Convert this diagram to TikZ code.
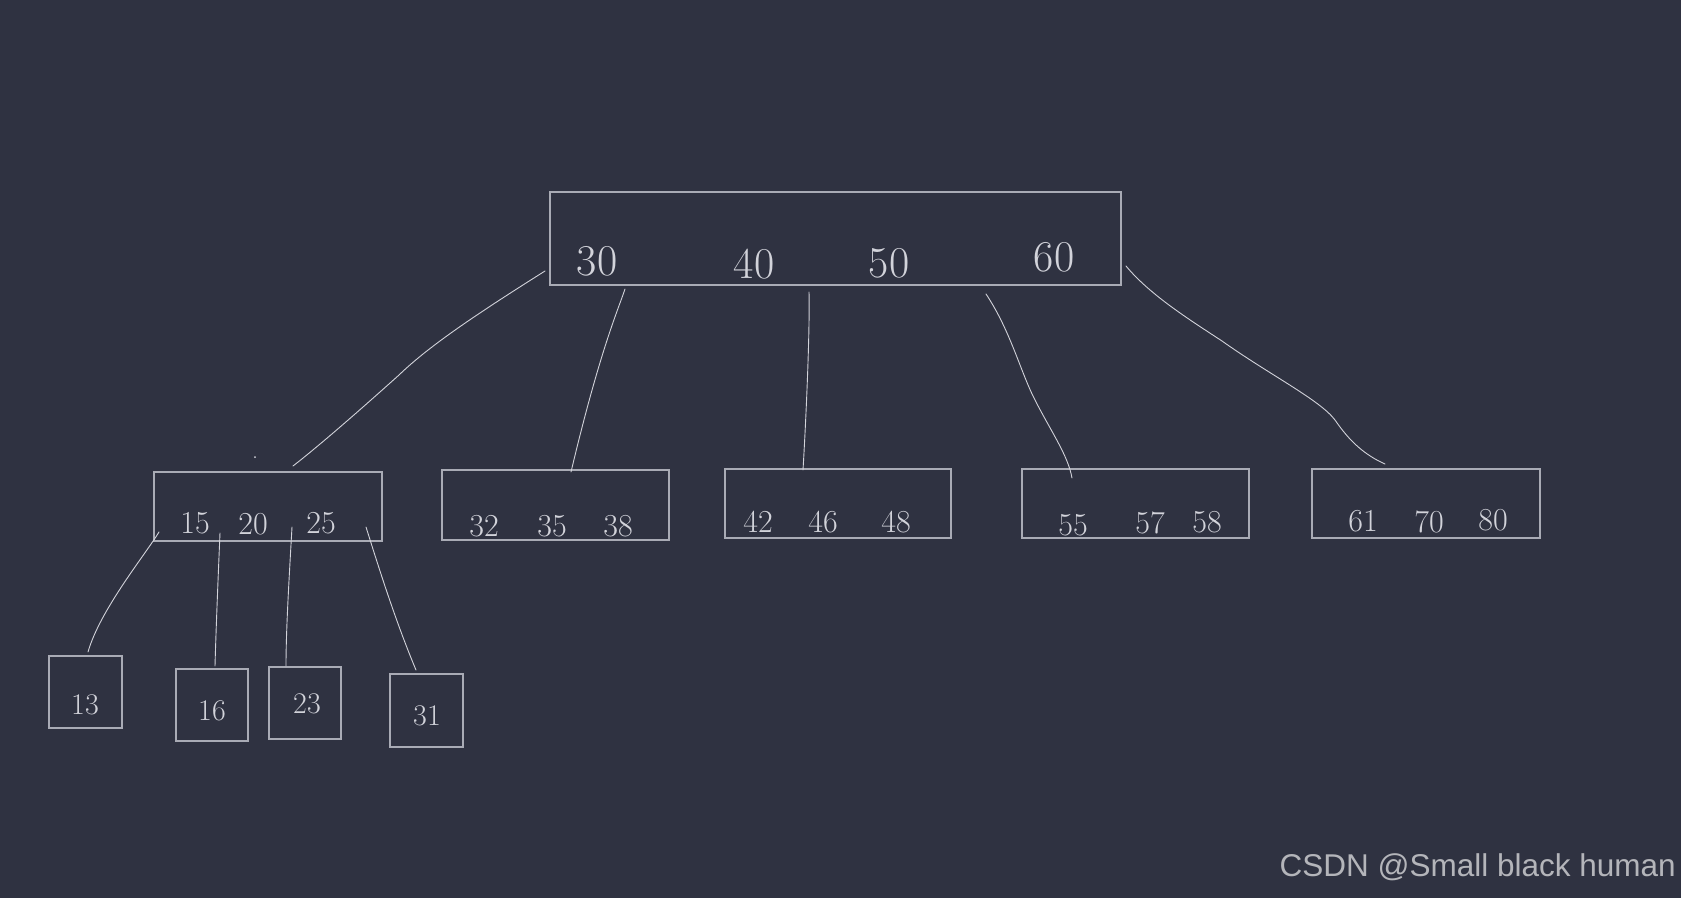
\documentclass[tikz,border=0pt]{standalone}
\usepackage{fontspec}
\newfontfamily\wmfont{Liberation Sans}
\definecolor{bg}{HTML}{2F3241}
\definecolor{ink}{HTML}{D2D3DA}
\definecolor{boxc}{HTML}{A9ABB5}
\definecolor{wm}{HTML}{B4B5BA}
\begin{document}
\begin{tikzpicture}[x=1pt,y=-1pt,
  keybox/.style={draw=boxc,line width=1.1pt,inner sep=0pt},
  bigdig/.style={text=ink,font=\fontsize{44}{44}\selectfont,inner sep=0pt},
  middig/.style={text=ink,font=\fontsize{32}{32}\selectfont,inner sep=0pt},
  smalldig/.style={text=ink,font=\fontsize{30}{30}\selectfont,inner sep=0pt},
  link/.style={draw=ink,line width=0.9pt,line cap=round}]
\fill[bg] (0,0) rectangle (1681,898);
\useasboundingbox (0,0) rectangle (1681,898);
% root
\node[keybox,minimum width=571pt,minimum height=93pt] (root) at (835.5,238.5) {};
\node[bigdig] (t30) at (597,261) {30};
\node[bigdig] (t40) at (754,264) {40};
\node[bigdig] (t50) at (889,263) {50};
\node[bigdig] (t60) at (1054,257) {60};
% level 2
\node[keybox,minimum width=228pt,minimum height=69pt] (A) at (268,506.5) {};
\node[keybox,minimum width=227pt,minimum height=70pt] (B) at (555.5,505) {};
\node[keybox,minimum width=226pt,minimum height=69pt] (C) at (838,503.5) {};
\node[keybox,minimum width=227pt,minimum height=69pt] (D) at (1135.5,503.5) {};
\node[keybox,minimum width=228pt,minimum height=69pt] (E) at (1426,503.5) {};
\node[middig] (t15) at (195,523) {15};
\node[middig] (t20) at (253,524) {20};
\node[middig] (t25) at (321,523) {25};
\node[middig] (t32) at (484,526) {32};
\node[middig] (t35) at (552,526) {35};
\node[middig] (t38) at (618,526) {38};
\node[middig] (t42) at (758,522) {42};
\node[middig] (t46) at (823,522) {46};
\node[middig] (t48) at (896,522) {48};
\node[middig] (t55) at (1073,525) {55};
\node[middig] (t57) at (1150,523) {57};
\node[middig] (t58) at (1207,522) {58};
\node[middig] (t61) at (1363,521) {61};
\node[middig] (t70) at (1429,522) {70};
\node[middig] (t80) at (1493,520) {80};
% level 3
\node[keybox,minimum width=73pt,minimum height=72pt] (n13) at (85.5,692) {};
\node[keybox,minimum width=72pt,minimum height=72pt] (n16) at (212,705) {};
\node[keybox,minimum width=72pt,minimum height=72pt] (n23) at (305,703) {};
\node[keybox,minimum width=73pt,minimum height=73pt] (n31) at (426.5,710.5) {};
\node[smalldig] (t13) at (85,705) {13};
\node[smalldig] (t16) at (212,711) {16};
\node[smalldig] (t23) at (307,704) {23};
\node[smalldig] (t31) at (427,716) {31};
% connector end points
\coordinate (rA) at (545,271);
\coordinate (aT) at (293,466);
\coordinate (rB) at (625,289);
\coordinate (bT) at (571,472);
\coordinate (rC) at (809,292);
\coordinate (cT) at (803,470);
\coordinate (rD) at (986,294);
\coordinate (dT) at (1072,478);
\coordinate (rE) at (1126,266);
\coordinate (eT) at (1385,464);
\coordinate (a1) at (159,532);
\coordinate (b13) at (88,652);
\coordinate (a2) at (220,533);
\coordinate (b16) at (215,666);
\coordinate (a3) at (292,527);
\coordinate (b23) at (286,666);
\coordinate (a4) at (366,527);
\coordinate (b31) at (416,670);
% connectors
\draw[link] (rA) .. controls (480,312) and (430,345) .. (399,375) .. controls (360,410) and (320,445) .. (aT);
\draw[link] (rB) .. controls (618,310) and (600,350) .. (bT);
\draw[link] (rC) .. controls (810,330) and (806,420) .. (cT);
\draw[link] (rD) .. controls (1010,330) and (1020,370) .. (1034,398) .. controls (1050,430) and (1068,455) .. (dT);
\draw[link] (rE) .. controls (1150,295) and (1190,320) .. (1222,341) .. controls (1270,375) and (1320,400) .. (1335,420) .. controls (1350,442) and (1365,455) .. (eT);
\draw[link] (a1) .. controls (145,555) and (100,610) .. (b13);
\draw[link] (a2) .. controls (218,580) and (216,630) .. (b16);
\draw[link] (a3) .. controls (289,580) and (286,630) .. (b23);
\draw[link] (a4) .. controls (378,565) and (395,620) .. (b31);
\fill[ink] (255,457) circle (1pt);
% watermark
\node[text=wm,font=\wmfont\fontsize{31.5}{31.5}\selectfont,anchor=east,inner sep=0pt] (wmark) at (1676,867) {CSDN @Small black human};
\end{tikzpicture}
\end{document}
